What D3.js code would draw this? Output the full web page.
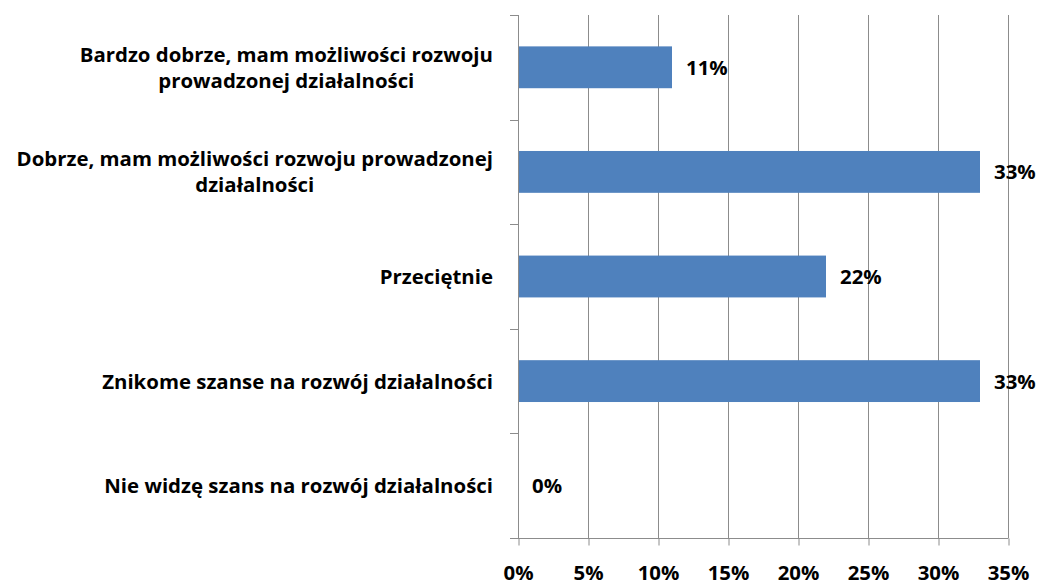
<!DOCTYPE html>
<html>
<head>
<meta charset="utf-8">
<script src="https://cdn.jsdelivr.net/npm/d3@7"></script>
<style>
  html, body { margin: 0; padding: 0; background: #fff; }
  svg { display: block; }
  text { font-family: "Open Sans", Lato, sans-serif; font-weight: 700; fill: #000; }
</style>
</head>
<body>
<svg id="chart" width="1040" height="585"></svg>
<script>
// ---- data ----
const categories = [
  "Bardzo dobrze, mam możliwości rozwoju\nprowadzonej działalności",
  "Dobrze, mam możliwości rozwoju prowadzonej\ndziałalności",
  "Przeciętnie",
  "Znikome szanse na rozwój działalności",
  "Nie widzę szans na rozwój działalności"
];
const values = [11, 33, 22, 33, 0];
const valueLabels = ["11%", "33%", "22%", "33%", "0%"];
const xTicks = [0, 5, 10, 15, 20, 25, 30, 35];
const xTickLabels = ["0%", "5%", "10%", "15%", "20%", "25%", "30%", "35%"];

(function () {
// ---- layout ----
const svg = d3.select("#chart");
const pLeft = 518, pRight = 1008, pTop = 15, pBottom = 538;
const axisColor = "#8c8c8c";
const barColor = "#4f81bd";

// pick a font size so the longest single-line label is ~391px wide (as in the reference)
const probe = svg.append("text").attr("font-size", 20).text(categories[3]);
const fontSize = Math.min(22, 20 * 391 / probe.node().getComputedTextLength());
probe.remove();

const x = d3.scaleLinear().domain([0, 35]).range([pLeft, pRight]);
const slot = d3.scaleBand().domain(d3.range(categories.length)).range([pTop, pBottom]).padding(0);
const yBar = d3.scaleBand().domain(d3.range(categories.length)).range([pTop, pBottom])
  .paddingInner(0.6).paddingOuter(0.3);

// vertical gridlines
svg.append("g").selectAll("line").data(xTicks.slice(1)).join("line")
  .attr("x1", d => Math.round(x(d)) + 0.5).attr("x2", d => Math.round(x(d)) + 0.5)
  .attr("y1", pTop).attr("y2", pBottom)
  .attr("stroke", axisColor).attr("stroke-width", 1);

// bars
svg.append("g").selectAll("rect").data(values).join("rect")
  .attr("x", x(0))
  .attr("y", (d, i) => yBar(i))
  .attr("width", d => x(d) - x(0))
  .attr("height", yBar.bandwidth())
  .attr("fill", barColor);

// x axis
const xAxis = d3.axisBottom(x).tickValues(xTicks).tickFormat((d, i) => xTickLabels[i])
  .tickSize(7).tickPadding(20);
const gx = svg.append("g").attr("transform", `translate(0,${pBottom + 0.5})`).call(xAxis);
gx.select(".domain").remove();
gx.append("line").attr("x1", pLeft - 8).attr("x2", pRight + 0.5).attr("y1", 0).attr("y2", 0)
  .attr("stroke", axisColor);
gx.selectAll(".tick line").attr("stroke", axisColor).attr("transform", "translate(0.5,0)");
gx.selectAll(".tick text")
  .style("font-family", "'Open Sans', Lato, sans-serif").style("font-weight", 700)
  .style("font-size", fontSize + "px").attr("fill", "#000");

// y axis (category boundaries)
const gy = svg.append("g");
gy.append("line").attr("x1", pLeft + 0.5).attr("x2", pLeft + 0.5).attr("y1", pTop).attr("y2", pBottom)
  .attr("stroke", axisColor);
gy.selectAll("line.tk").data(d3.range(categories.length + 1)).join("line").attr("class", "tk")
  .attr("x1", pLeft - 8).attr("x2", pLeft)
  .attr("y1", i => Math.round(i < categories.length ? slot(i) : pBottom) + 0.5)
  .attr("y2", i => Math.round(i < categories.length ? slot(i) : pBottom) + 0.5)
  .attr("stroke", axisColor);

// category labels (right-aligned block, lines centred within it)
const labelRight = 493;
const lineGap = 26;
const capH = 15;
categories.forEach((cat, i) => {
  const lines = cat.split("\n");
  const cy = slot(i) + slot.bandwidth() / 2;
  const g = svg.append("g");
  const texts = lines.map(ln => g.append("text")
    .attr("font-size", fontSize)
    .attr("text-anchor", "middle")
    .text(ln));
  const maxW = d3.max(texts, t => t.node().getComputedTextLength());
  const cx = labelRight - maxW / 2;
  const blockH = (lines.length - 1) * lineGap + capH;
  texts.forEach((t, j) => {
    t.attr("x", cx).attr("y", cy - blockH / 2 + capH + j * lineGap);
  });
});

// value labels
svg.append("g").selectAll("text").data(values).join("text")
  .attr("x", d => x(d) + 14)
  .attr("y", (d, i) => yBar(i) + yBar.bandwidth() / 2 + capH / 2)
  .attr("font-size", fontSize)
  .text((d, i) => valueLabels[i]);
})();
</script>
</body>
</html>
